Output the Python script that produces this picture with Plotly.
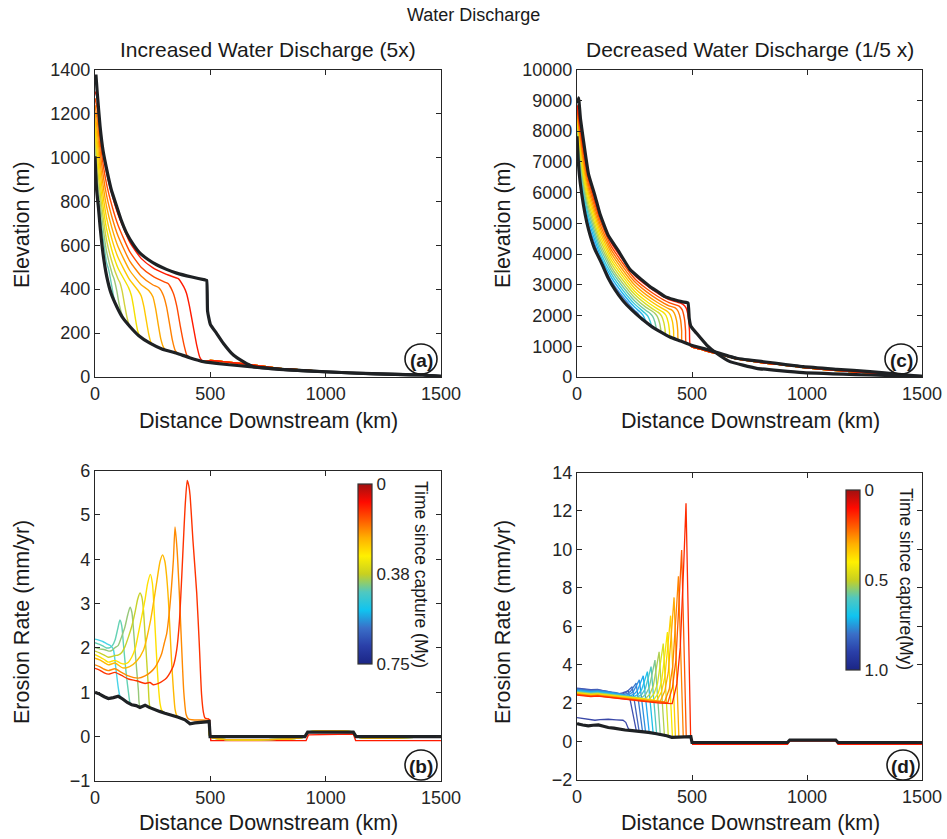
import plotly.graph_objects as go

W, H = 947, 839
FONT = "Liberation Sans, Arial, Helvetica, sans-serif"

# ---------------- panel (a): elevation, increased discharge ----------------
a_upper_x = [4, 10, 22, 35, 51, 70, 94, 115, 137, 165, 195, 230, 267, 310, 354, 420, 477, 484, 488, 500, 527, 556, 600, 643, 686, 800, 990, 1200, 1422, 1500]
a_upper_y = [1377, 1290, 1141, 1030, 944, 855, 777, 710, 655, 605, 564, 535, 511, 490, 473, 455, 442, 440, 300, 240, 199, 154, 100, 70, 47, 35, 24, 15, 9, 3]
a_lower_x = [0, 7, 15, 22, 35, 51, 70, 94, 120, 152, 190, 238, 290, 354, 410, 470, 560, 672, 845, 1000, 1135, 1300, 1422, 1500]
a_lower_y = [1005, 853, 770, 686, 560, 457, 380, 321, 270, 229, 188, 154, 128, 108, 88, 70, 58, 47, 32, 24, 17, 12, 9, 3]
a_tail_x = [500, 556, 643, 700, 788, 900, 990, 1100, 1200, 1279, 1422, 1480]
a_tail_y = [75, 70, 60, 53, 40, 32, 25, 20, 15, 12, 9, 4]
a_lines_x = [
    [0, 10, 25, 50, 75, 100, 150, 200, 250, 300, 350, 361, 385, 397, 410, 426, 440, 455, 465],
    [0, 10, 25, 50, 75, 100, 150, 200, 250, 300, 318, 340, 355, 370, 385, 398, 408],
    [0, 10, 25, 50, 75, 100, 150, 200, 250, 277, 297, 310, 322, 335, 348, 360],
    [0, 10, 25, 50, 75, 100, 150, 200, 233, 251, 263, 274, 285, 296, 305],
    [0, 10, 25, 50, 75, 100, 150, 186, 200, 212, 222, 232, 241, 248],
    [0, 10, 25, 50, 75, 100, 145, 158, 167, 176, 185, 195],
    [0, 10, 25, 50, 75, 100, 107, 118, 128, 138, 147, 153],
    [0, 10, 25, 50, 75, 83, 95, 105, 115, 123],
    [0, 10, 25, 50, 59, 70, 80, 88, 95],
]
a_lines_y = [
    [1300, 1270, 1095, 930, 825, 740, 615, 540, 498, 472, 452, 448, 410, 380, 320, 229, 150, 88, 74],
    [1269, 1219, 1048, 879, 774, 691, 572, 500, 459, 433, 425, 380, 320, 230, 150, 100, 90],
    [1238, 1168, 1001, 828, 723, 642, 529, 460, 420, 406, 370, 320, 250, 170, 120, 107],
    [1206, 1117, 954, 777, 672, 593, 486, 420, 394, 365, 310, 240, 175, 138, 125],
    [1175, 1066, 907, 726, 621, 544, 443, 395, 370, 320, 260, 200, 162, 150],
    [1144, 1015, 860, 675, 570, 495, 408, 370, 320, 260, 210, 185],
    [1113, 964, 813, 624, 519, 446, 432, 390, 330, 275, 240, 228],
    [1081, 913, 766, 573, 468, 445, 390, 330, 290, 268],
    [1050, 862, 719, 522, 490, 430, 370, 335, 320],
]
a_colors = ["#ff1a00", "#ff4a00", "#ff8000", "#ffa800", "#ffc800", "#f4e000", "#d2d23c", "#9cc878", "#64c8b4"]

# ---------------- panel (c): elevation, decreased discharge ----------------
c_upper_x = [3, 7, 15, 27, 50, 78, 100, 136, 180, 230, 281, 317, 350, 383, 420, 455, 477, 483, 488, 495, 520, 564, 607, 665, 781, 984, 1274, 1500]
c_upper_y = [8900, 9076, 8400, 7750, 6600, 5900, 5300, 4600, 4100, 3500, 3160, 2940, 2780, 2615, 2520, 2450, 2420, 2400, 1900, 1650, 1420, 1040, 770, 500, 283, 141, 65, 20]
c_lower_x = [0, 5, 10, 20, 35, 50, 75, 107, 135, 165, 200, 238, 288, 325, 365, 404, 450, 491, 571, 694, 830, 984, 1130, 1274, 1400, 1500]
c_lower_y = [7830, 7100, 6600, 5980, 5300, 4800, 4200, 3700, 3230, 2840, 2480, 2180, 1850, 1640, 1460, 1300, 1170, 1050, 880, 610, 480, 336, 250, 174, 90, 20]
c_tail_x = [500, 540, 571, 620, 694, 800, 900, 984, 1100, 1200, 1274, 1400, 1490]
c_tail_y = [980, 900, 830, 740, 590, 470, 390, 310, 230, 170, 130, 70, 20]
c_lines_x = [
    [0, 25, 50, 100, 150, 200, 250, 300, 350, 400, 450, 461, 474, 484, 489, 491],
    [0, 25, 50, 100, 150, 200, 250, 300, 350, 400, 444, 457, 467, 472, 474],
    [0, 25, 50, 100, 150, 200, 250, 300, 350, 400, 427, 440, 450, 455, 457],
    [0, 25, 50, 100, 150, 200, 250, 300, 350, 400, 410, 423, 433, 438, 440],
    [0, 25, 50, 100, 150, 200, 250, 300, 350, 392, 405, 415, 420, 422],
    [0, 25, 50, 100, 150, 200, 250, 300, 350, 374, 387, 397, 402, 404],
    [0, 25, 50, 100, 150, 200, 250, 300, 350, 355, 368, 378, 383, 385],
    [0, 25, 50, 100, 150, 200, 250, 300, 336, 349, 359, 364, 366],
    [0, 25, 50, 100, 150, 200, 250, 300, 316, 329, 339, 344, 346],
    [0, 25, 50, 100, 150, 200, 250, 295, 308, 318, 323, 325],
    [0, 25, 50, 100, 150, 200, 250, 273, 286, 296, 301, 303],
    [0, 25, 50, 100, 150, 200, 251, 264, 274, 279, 281],
]
c_lines_y = [
    [8850, 7600, 6530, 5230, 4350, 3800, 3310, 2990, 2730, 2520, 2400, 2360, 2250, 1950, 1500, 1080],
    [8768, 7441, 6386, 5105, 4238, 3691, 3206, 2886, 2627, 2418, 2305, 2190, 1900, 1500, 1130],
    [8686, 7282, 6243, 4979, 4126, 3582, 3103, 2783, 2525, 2316, 2250, 2130, 1870, 1500, 1160],
    [8605, 7123, 6099, 4854, 4015, 3473, 2999, 2679, 2422, 2215, 2190, 2080, 1830, 1500, 1200],
    [8523, 6964, 5956, 4728, 3903, 3364, 2896, 2576, 2319, 2140, 2030, 1800, 1500, 1250],
    [8441, 6805, 5812, 4603, 3791, 3255, 2792, 2472, 2216, 2110, 2000, 1770, 1500, 1310],
    [8359, 6646, 5668, 4477, 3679, 3145, 2688, 2368, 2114, 2095, 1980, 1760, 1530, 1370],
    [8277, 6487, 5525, 4352, 3567, 3036, 2585, 2265, 2090, 1970, 1760, 1560, 1440],
    [8196, 6328, 5381, 4226, 3456, 2927, 2482, 2161, 2080, 1970, 1780, 1600, 1530],
    [8114, 6169, 5238, 4101, 3344, 2818, 2378, 2080, 1980, 1810, 1690, 1640],
    [8032, 6010, 5094, 3975, 3232, 2709, 2274, 2120, 2020, 1870, 1780, 1750],
    [7950, 5851, 4950, 3850, 3120, 2600, 2165, 2080, 1960, 1890, 1860],
]
c_colors = ["#ff1a00", "#ff4a00", "#ff7800", "#ffa000", "#ffc400", "#f6e400", "#d4dc28", "#a8cc60", "#70c8a0", "#38c8d8", "#20b4f0", "#3c8ee0"]

# ---------------- panel (b): erosion rate, increased discharge ----------------
b_black_x = [0, 20, 40, 58, 80, 101, 120, 140, 159, 178, 195, 217, 235, 253, 280, 303, 330, 361, 390, 412, 433, 460, 484, 495, 499, 910, 922, 1120, 1132, 1500]
b_black_y = [1.0, 0.96, 0.9, 0.86, 0.88, 0.91, 0.85, 0.77, 0.72, 0.7, 0.66, 0.71, 0.66, 0.62, 0.57, 0.53, 0.49, 0.44, 0.38, 0.29, 0.31, 0.32, 0.33, 0.34, 0.0, 0.0, 0.1, 0.1, 0.0, 0.0]
b_lines_x = [
    [0, 20, 36, 50, 65, 79, 90, 101, 108],
    [0, 20, 36, 50, 65, 76, 87, 98, 108, 116, 123, 130, 137, 145, 152],
    [0, 20, 43, 60, 72, 85, 101, 115, 130, 142, 152, 160, 166, 173, 181, 188, 195],
    [0, 20, 40, 58, 87, 100, 116, 130, 145, 160, 173, 185, 195, 203, 210, 217, 224, 231, 238],
    [0, 20, 40, 58, 87, 110, 130, 145, 159, 175, 188, 203, 217, 228, 240, 249, 258, 266, 274, 282, 289],
    [0, 20, 40, 58, 87, 120, 150, 180, 210, 240, 265, 282, 293, 303, 310, 318, 325, 332, 340, 347, 354],
    [0, 20, 40, 58, 87, 115, 145, 188, 217, 240, 260, 275, 289, 300, 311, 322, 332, 340, 347, 356, 365, 375, 385, 395, 405, 420, 490, 495],
    [0, 20, 40, 58, 87, 115, 145, 180, 217, 238, 253, 275, 295, 311, 325, 340, 354, 366, 376, 385, 392, 400, 407, 412, 425, 441, 452, 462, 470, 477, 490, 496],
]
b_lines_y = [
    [2.2, 2.17, 2.14, 2.1, 2.06, 1.98, 1.56, 1.1, 0.92],
    [2.12, 2.08, 2.04, 2.0, 2.01, 2.06, 2.18, 2.42, 2.63, 2.5, 2.1, 1.7, 1.34, 1.0, 0.76],
    [2.01, 1.98, 1.96, 1.93, 1.94, 2.0, 2.06, 2.25, 2.48, 2.75, 2.92, 2.8, 2.48, 2.0, 1.49, 1.05, 0.67],
    [1.93, 1.89, 1.84, 1.79, 1.83, 1.84, 1.9, 2.03, 2.25, 2.5, 2.79, 3.1, 3.24, 3.15, 2.86, 2.3, 1.72, 1.15, 0.68],
    [1.85, 1.8, 1.74, 1.68, 1.72, 1.66, 1.64, 1.68, 1.79, 2.0, 2.33, 2.72, 3.09, 3.45, 3.66, 3.45, 2.7, 1.9, 1.2, 0.75, 0.6],
    [1.77, 1.73, 1.67, 1.62, 1.66, 1.55, 1.58, 1.7, 1.95, 2.6, 3.4, 3.95, 4.1, 3.95, 3.65, 3.1, 2.4, 1.7, 1.05, 0.62, 0.48],
    [1.62, 1.58, 1.52, 1.49, 1.53, 1.45, 1.37, 1.32, 1.37, 1.45, 1.56, 1.7, 1.87, 2.1, 2.33, 2.8, 3.4, 4.0, 4.73, 4.2, 3.3, 2.1, 1.0, 0.5, 0.4, 0.38, 0.37, 0.36],
    [1.54, 1.5, 1.44, 1.41, 1.45, 1.38, 1.3, 1.26, 1.2, 1.22, 1.17, 1.2, 1.26, 1.33, 1.44, 1.6, 1.95, 2.6, 3.6, 4.6, 5.3, 5.78, 5.65, 5.45, 4.4, 3.24, 2.1, 0.95, 0.55, 0.42, 0.4, 0.38],
]
b_colors = ["#48d4e8", "#64d2b4", "#96c878", "#c8d22a", "#ffe000", "#ffb800", "#ff8a00", "#ff3300"]
# straight tail of the youngest (red) profile, from the knick at 500 km to the outlet
b_red_tail_x = [490, 497, 502, 915, 925, 1120, 1130, 1500]
b_red_tail_y = [0.4, 0.38, -0.09, -0.09, 0.04, 0.06, -0.09, -0.09]
b_cbar_vals = [0.75, 0.375, 0.0]
b_cbar_text = ["0", "0.38", "0.75"]

# ---------------- panel (d): erosion rate, decreased discharge ----------------
d_black_x = [0, 6, 25, 49, 70, 93, 115, 136, 160, 180, 209, 230, 252, 280, 310, 340, 368, 390, 412, 435, 455, 470, 484, 495, 500, 915, 925, 1125, 1135, 1500]
d_black_y = [0.95, 0.91, 0.86, 0.82, 0.85, 0.87, 0.8, 0.73, 0.7, 0.65, 0.6, 0.58, 0.56, 0.52, 0.48, 0.42, 0.36, 0.3, 0.22, 0.22, 0.22, 0.24, 0.26, 0.26, -0.05, -0.05, 0.08, 0.08, -0.05, -0.05]
d_lines_x = [
    [0, 30, 60, 90, 130, 170, 210, 260, 310, 360, 400, 414, 434, 449, 464, 474, 494],
    [0, 30, 60, 90, 130, 170, 210, 260, 310, 360, 395, 415, 430, 445, 455, 475],
    [0, 30, 60, 90, 130, 170, 210, 260, 310, 350, 381, 401, 416, 431, 441, 462],
    [0, 30, 60, 90, 130, 170, 210, 260, 310, 340, 362, 382, 397, 412, 422, 443],
    [0, 30, 60, 90, 130, 170, 210, 260, 310, 347, 367, 382, 397, 407, 428],
    [0, 30, 60, 90, 130, 170, 210, 260, 300, 333, 353, 368, 383, 393, 415],
    [0, 30, 60, 90, 130, 170, 210, 260, 290, 315, 335, 350, 365, 375, 397],
    [0, 30, 60, 90, 130, 170, 210, 250, 297, 317, 332, 347, 357, 380],
    [0, 30, 60, 90, 130, 170, 210, 250, 279, 299, 314, 329, 339, 362],
    [0, 30, 60, 90, 130, 170, 210, 240, 262, 282, 297, 312, 322, 346],
    [0, 30, 60, 90, 130, 170, 210, 246, 266, 281, 296, 306, 331],
    [0, 30, 60, 90, 130, 170, 200, 228, 248, 263, 278, 288, 314],
    [0, 30, 60, 90, 130, 170, 211, 231, 246, 261, 271, 298],
    [0, 30, 60, 90, 130, 170, 197, 217, 232, 247, 257, 285],
    [0, 30, 60, 90, 130, 180, 200, 215, 230, 240, 270],
    [0, 30, 60, 90, 130, 163, 183, 198, 213, 223, 258],
    [0, 20, 50, 78, 100, 136, 170, 200, 212, 223],
]
d_lines_y = [
    [2.42, 2.38, 2.34, 2.36, 2.3, 2.25, 2.2, 2.12, 2.06, 2.0, 1.97, 1.97, 3.0, 4.9, 9.2, 12.4, 0.26],
    [2.44, 2.4, 2.36, 2.38, 2.32, 2.27, 2.22, 2.15, 2.09, 2.04, 2.02, 2.81, 4.24, 7.58, 9.96, 0.25],
    [2.46, 2.42, 2.38, 2.4, 2.34, 2.29, 2.24, 2.17, 2.12, 2.08, 2.07, 2.72, 3.9, 6.64, 8.6, 0.23],
    [2.48, 2.44, 2.4, 2.42, 2.36, 2.31, 2.26, 2.2, 2.15, 2.12, 2.1, 2.64, 3.61, 5.88, 7.5, 0.22],
    [2.5, 2.46, 2.42, 2.44, 2.38, 2.33, 2.28, 2.22, 2.16, 2.13, 2.57, 3.37, 5.22, 6.55, 0.22],
    [2.52, 2.48, 2.44, 2.46, 2.4, 2.35, 2.3, 2.24, 2.19, 2.16, 2.51, 3.15, 4.64, 5.7, 0.22],
    [2.54, 2.5, 2.46, 2.48, 2.42, 2.37, 2.32, 2.26, 2.22, 2.2, 2.49, 3.01, 4.23, 5.1, 0.28],
    [2.56, 2.52, 2.48, 2.5, 2.44, 2.39, 2.34, 2.29, 2.23, 2.47, 2.91, 3.94, 4.67, 0.33],
    [2.58, 2.54, 2.5, 2.52, 2.46, 2.41, 2.36, 2.3, 2.26, 2.46, 2.81, 3.65, 4.24, 0.38],
    [2.6, 2.56, 2.52, 2.54, 2.48, 2.43, 2.38, 2.33, 2.3, 2.46, 2.75, 3.42, 3.9, 0.41],
    [2.63, 2.59, 2.55, 2.57, 2.51, 2.46, 2.41, 2.33, 2.46, 2.7, 3.25, 3.64, 0.44],
    [2.66, 2.62, 2.58, 2.6, 2.54, 2.49, 2.43, 2.36, 2.47, 2.66, 3.1, 3.42, 0.47],
    [2.69, 2.65, 2.61, 2.63, 2.57, 2.52, 2.4, 2.48, 2.63, 2.97, 3.21, 0.5],
    [2.72, 2.68, 2.64, 2.66, 2.6, 2.54, 2.43, 2.49, 2.6, 2.86, 3.04, 0.52],
    [2.75, 2.71, 2.67, 2.69, 2.63, 2.46, 2.5, 2.57, 2.73, 2.85, 0.54],
    [2.78, 2.74, 2.7, 2.72, 2.62, 2.5, 2.5, 2.53, 2.6, 2.65, 0.55],
    [1.25, 1.22, 1.15, 1.11, 1.14, 1.16, 1.13, 1.11, 1.0, 0.68],
]
d_colors = ["#ff2a00", "#ff5a00", "#ff8400", "#ffa800", "#ffd000", "#f8e800", "#d8e020", "#b0d050",
            "#80c890", "#50c8c0", "#20c0e8", "#20a8f0", "#3090e0", "#3c78cc", "#4464bc", "#4050b0", "#3a48a8"]
d_red_tail_x = [500, 915, 925, 1125, 1135, 1500]
d_red_tail_y = [-0.14, -0.14, 0.03, 0.03, -0.14, -0.14]
d_cbar_vals = [1.0, 0.5, 0.0]
d_cbar_text = ["0", "0.5", "1.0"]

JET = [[0.0, "#1b2585"], [0.1, "#2a3fa8"], [0.2, "#3a6fc8"], [0.3, "#10c4f0"], [0.4, "#50c8c0"],
       [0.5, "#c8d020"], [0.6, "#fff000"], [0.7, "#ffb000"], [0.8, "#ff5a00"], [0.9, "#ff0a00"], [1.0, "#a01010"]]

fig = go.Figure()


def add_line(x, y, color, width, xa, ya, shape="linear", smooth=0.6):
    line = dict(color=color, width=width, shape=shape)
    if shape == "spline":
        line["smoothing"] = smooth
    fig.add_trace(go.Scatter(x=x, y=y, mode="lines", line=line, xaxis=xa, yaxis=ya,
                             showlegend=False, hoverinfo="skip"))


def extend(xs, ys, bx, by, stop=None):
    last = xs[-1]
    ex = [v for v in bx if v > last and (stop is None or v < stop)]
    ey = [by[i] for i, v in enumerate(bx) if v > last and (stop is None or v < stop)]
    return list(xs) + ex, list(ys) + ey


# panel a
for i in reversed(range(len(a_lines_x))):
    x, y = extend(a_lines_x[i], a_lines_y[i], a_lower_x, a_lower_y, stop=500)
    x, y = x + a_tail_x, y + a_tail_y
    add_line(x, y, a_colors[i], 1.4, "x", "y", "spline", 0.5)
add_line(a_lower_x, a_lower_y, "#1e2124", 3.2, "x", "y", "spline", 0.5)
add_line(a_upper_x, a_upper_y, "#1e2124", 3.2, "x", "y", "spline", 0.4)

# panel c
for i in reversed(range(len(c_lines_x))):
    x, y = extend(c_lines_x[i], c_lines_y[i], c_lower_x, c_lower_y, stop=500)
    x, y = x + c_tail_x, y + c_tail_y
    add_line(x, y, c_colors[i], 1.4, "x2", "y2", "spline", 0.5)
add_line(c_lower_x, c_lower_y, "#1e2124", 3.2, "x2", "y2", "spline", 0.5)
add_line(c_upper_x, c_upper_y, "#1e2124", 3.2, "x2", "y2", "spline", 0.4)

# panel b
add_line(b_red_tail_x, b_red_tail_y, "#ff1a00", 1.4, "x3", "y3")
for i in range(len(b_lines_x)):
    x, y = extend(b_lines_x[i], b_lines_y[i], b_black_x, b_black_y)
    if i >= len(b_lines_x) - 2:
        x, y = list(b_lines_x[i]), list(b_lines_y[i])
    add_line(x, y, b_colors[i], 1.4, "x3", "y3", "spline", 0.6)
add_line(b_black_x, b_black_y, "#1e2124", 3.2, "x3", "y3")

# panel d
for i in reversed(range(len(d_lines_x))):
    x, y = extend(d_lines_x[i], d_lines_y[i], d_black_x, d_black_y)
    add_line(x, y, d_colors[i], 1.3, "x4", "y4")
add_line(d_red_tail_x, d_red_tail_y, "#ff1a00", 1.4, "x4", "y4")
add_line(d_black_x, d_black_y, "#1e2124", 3.2, "x4", "y4")

# colorbars (dummy off-range markers)
for xa, ya, cmax, vals, txt, cx, cy in [
    ("x3", "y3", 0.75, b_cbar_vals, b_cbar_text, 358, 574),
    ("x4", "y4", 1.0, d_cbar_vals, d_cbar_text, 846, 580),
]:
    fig.add_trace(go.Scatter(
        x=[5000], y=[5000], mode="markers", xaxis=xa, yaxis=ya, showlegend=False, hoverinfo="skip",
        marker=dict(size=1, color=[0.2], colorscale=JET, cmin=0, cmax=cmax, showscale=True,
                    colorbar=dict(x=cx / W, xanchor="left", y=1 - cy / H, yanchor="middle",
                                  len=180 / H, lenmode="fraction", thickness=14, thicknessmode="pixels",
                                  outlinewidth=1.2, outlinecolor="#333", xpad=0, ypad=0,
                                  tickvals=vals, ticktext=txt, ticks="",
                                  tickfont=dict(size=17, color="#262626", family=FONT)))))


def axis(domain, rng, dtick, anchor):
    return dict(domain=domain, range=rng, dtick=dtick, tick0=0, ticks="inside", ticklen=5,
                tickcolor="#262626", showline=True, linecolor="#262626", linewidth=1.2,
                mirror="allticks", showgrid=False, zeroline=False, anchor=anchor, tickformat="d",
                tickfont=dict(size=18, color="#262626", family=FONT))


xd_left = [95 / W, 441 / W]
xd_right = [577 / W, 922 / W]
yd_top = [1 - 377 / H, 1 - 69.5 / H]
yd_bot_b = [1 - 781 / H, 1 - 470.6 / H]
yd_bot_d = [1 - 780 / H, 1 - 472.5 / H]

annotations = []


def text(t, px, py, size, angle=0):
    annotations.append(dict(text=t, x=px / W, y=1 - py / H, xref="paper", yref="paper",
                            showarrow=False, textangle=angle, xanchor="center", yanchor="middle",
                            font=dict(size=size, color="#1a1a1a", family=FONT)))


text("Water Discharge", 473, 15, 18)
text("Increased Water Discharge (5x)", 268, 50, 21)
text("Decreased Water Discharge (1/5 x)", 750, 50, 21)
for cx in (268, 750):
    text("Distance Downstream (km)", cx, 421, 21.5)
    text("Distance Downstream (km)", cx, 823, 21.5)
for cx in (22, 503):
    text("Elevation (m)", cx, 225, 21.5, -90)
    text("Erosion Rate (mm/yr)", cx, 622, 21.5, -90)
text("Time since capture (My)", 421, 574, 17.5, 90)
text("Time since capture(My)", 906, 579, 17.5, 90)

shapes = []
for lab, cx, cy in [("(a)", 421, 359), ("(c)", 901, 359), ("(b)", 421, 765), ("(d)", 903, 765)]:
    text("<b>" + lab + "</b>", cx, cy + 1, 19)
    shapes.append(dict(type="circle", xref="paper", yref="paper",
                       x0=(cx - 16) / W, x1=(cx + 16) / W, y0=1 - (cy + 15) / H, y1=1 - (cy - 15) / H,
                       line=dict(color="#1a1a1a", width=1.6)))

fig.update_layout(
    width=W, height=H, margin=dict(l=0, r=0, t=0, b=0, autoexpand=False),
    paper_bgcolor="white", plot_bgcolor="white",
    font=dict(family=FONT, color="#1a1a1a"),
    xaxis=axis(xd_left, [0, 1500], 500, "y"),
    yaxis=axis(yd_top, [0, 1400], 200, "x"),
    xaxis2=axis(xd_right, [0, 1500], 500, "y2"),
    yaxis2=axis(yd_top, [0, 10000], 1000, "x2"),
    xaxis3=axis(xd_left, [0, 1500], 500, "y3"),
    yaxis3=axis(yd_bot_b, [-1, 6], 1, "x3"),
    xaxis4=axis(xd_right, [0, 1500], 500, "y4"),
    yaxis4=axis(yd_bot_d, [-2, 14], 2, "x4"),
    annotations=annotations, shapes=shapes,
)

fig.write_html("out.html")
